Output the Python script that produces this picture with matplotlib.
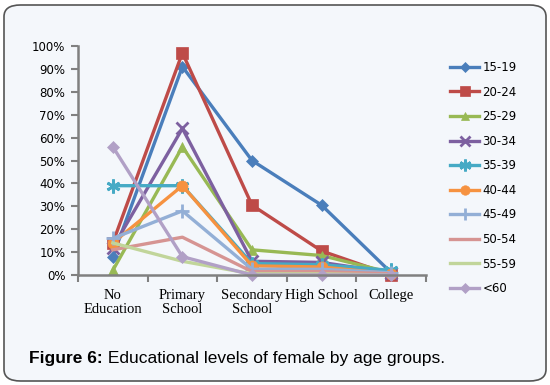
import matplotlib.pyplot as plt
from matplotlib.patches import FancyBboxPatch

categories = ['No\nEducation', 'Primary\nSchool', 'Secondary\nSchool', 'High School', 'College']
groups = ['15-19', '20-24', '25-29', '30-34', '35-39', '40-44', '45-49', '50-54', '55-59', '<60']

v_15_19 = [8, 91, 50, 30.5, 1]
v_20_24 = [14, 97, 30.5, 10.5, 0]
v_25_29 = [2, 56, 11, 8.5, 1]
v_30_34 = [12, 64, 6, 5.5, 1]
v_35_39 = [39, 39, 5, 4.5, 2]
v_40_44 = [14, 39, 4, 3.5, 0.5]
v_45_49 = [16, 28, 2.5, 2.5, 1]
v_50_54 = [11, 16.5, 1.5, 1.5, 0.5]
v_55_59 = [14, 6, 0.5, 0.5, 0]
v_60 = [56, 8, 0, 0, 0]

series = [v_15_19, v_20_24, v_25_29, v_30_34, v_35_39,
          v_40_44, v_45_49, v_50_54, v_55_59, v_60]
colors = ['#4A7EBB', '#BE4B48', '#98B954', '#7D60A0', '#46AAC5',
          '#F69240', '#93AFD6', '#D69492', '#C1D59A', '#B1A0C6']
markers = ['D', 's', '^', 'x', (6, 2, 0), 'o', '+', None, None, 'D']
msizes = [6, 8, 7, 9, 10, 8, 10, 0, 0, 6]

bg = '#F4F7FB'
fig = plt.figure(figsize=(5.5, 3.85), dpi=100)
fig.patch.set_facecolor('white')

# rounded frame round chart and caption
frame = FancyBboxPatch((4 / 550, 4 / 385), 542 / 550, 376 / 385,
                       boxstyle='round,pad=0,rounding_size=0.03',
                       transform=fig.transFigure, facecolor=bg,
                       edgecolor='#555555', linewidth=1.2, zorder=-5)
fig.patches.append(frame)

ax = fig.add_axes([78 / 550, 1 - 275 / 385, 348 / 550, 229 / 385])
ax.set_facecolor(bg)
ax.set_zorder(2)

x = list(range(len(categories)))
for vals, name, c, m, ms in zip(series, groups, colors, markers, msizes):
    ax.plot(x, vals, color=c, lw=2.4, marker=m, markersize=ms,
            markeredgewidth=2 if m in ('x', '+', (6, 2, 0)) else 0.5,
            markeredgecolor=c, label=name, clip_on=False)

ax.set_xlim(-0.5, 4.5)
ax.set_ylim(0, 100)
ax.set_yticks(range(0, 101, 10))
ax.set_yticklabels([f'{t}%' for t in range(0, 101, 10)],
                   family='DejaVu Sans', fontsize=8.5)
ax.set_xticks(x)
ax.set_xticklabels(categories, family='Liberation Serif', fontsize=10.5,
                   linespacing=1.1)
ax.set_xticks([i - 0.5 for i in range(6)], minor=True)
ax.tick_params(axis='x', which='major', length=0, pad=10)
ax.tick_params(axis='x', which='minor', length=5, width=1.5,
               color='#808080', direction='out')
ax.tick_params(axis='y', length=5, width=1.5, color='#808080', pad=4)
for s in ('top', 'right'):
    ax.spines[s].set_visible(False)
for s in ('left', 'bottom'):
    ax.spines[s].set_color('#808080')
    ax.spines[s].set_linewidth(1.8)

leg = ax.legend(loc='upper left', bbox_to_anchor=(1.055, 0.955), frameon=False,
                fontsize=8.5, handlelength=2.5, labelspacing=0.98,
                handletextpad=0.25, borderaxespad=0, markerscale=0.85)

cap = fig.text(29 / 550, 1 - 358 / 385, 'Figure 6:', fontsize=12.5,
               fontweight='bold', family='Liberation Sans', va='center')
fig.canvas.draw()
bb = cap.get_window_extent()
fig.text(bb.x1 / 550, 1 - 358 / 385, ' Educational levels of female by age groups.',
         fontsize=12.5, family='Liberation Sans', va='center')

fig.savefig('out.png', dpi=100, facecolor='white')
